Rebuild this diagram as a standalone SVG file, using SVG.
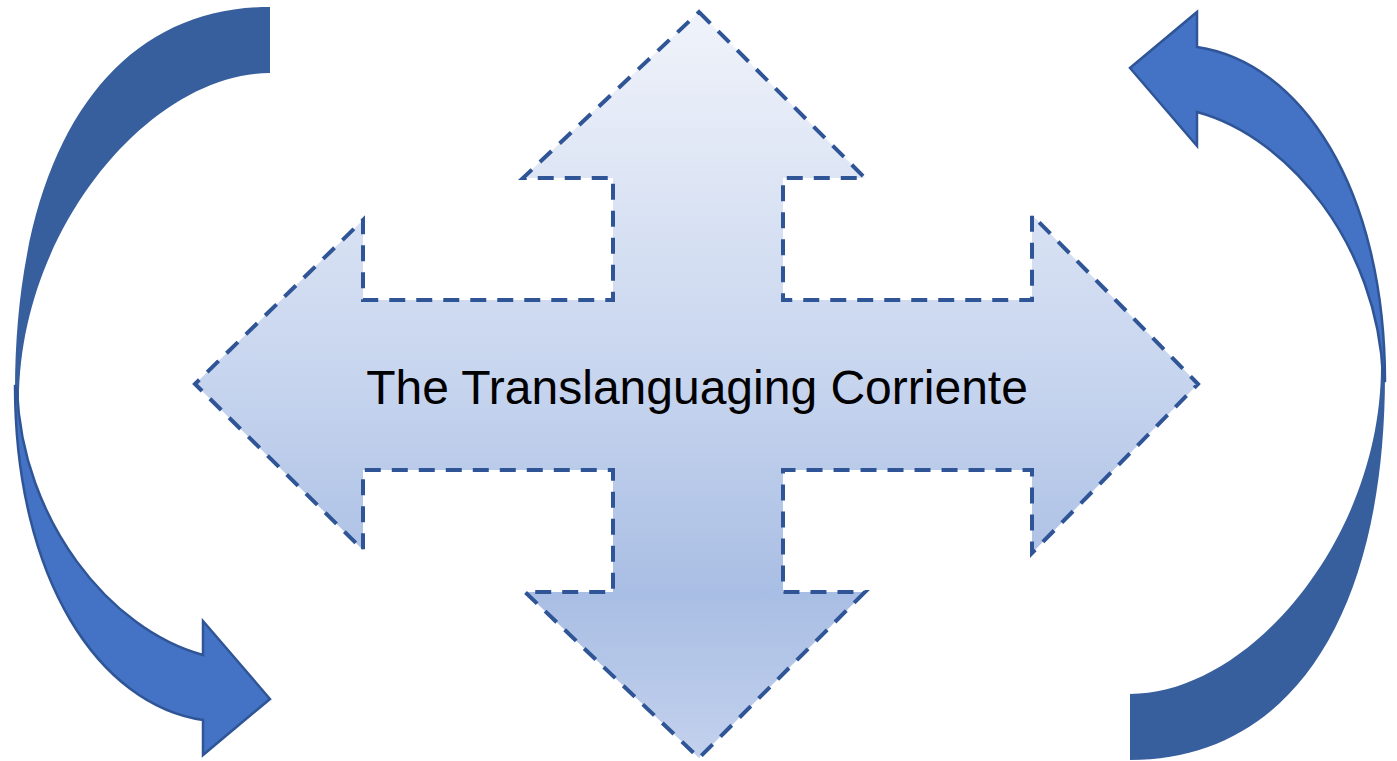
<svg xmlns="http://www.w3.org/2000/svg" width="1397" height="761" viewBox="0 0 1397 761">
<defs>
<linearGradient id="crossGrad" gradientUnits="userSpaceOnUse" x1="0" y1="12" x2="0" y2="758">
<stop offset="0" stop-color="#f0f3fa"/>
<stop offset="0.5" stop-color="#c6d4ee"/>
<stop offset="0.78" stop-color="#a9bee4"/>
<stop offset="1" stop-color="#c3d1ed"/>
</linearGradient>
<g id="curvedArrow">
<path class="back" d="M270,7 C110,7 15,150 15,392 L19,400 C19,230 150,73 270,73 Z"/>
<path class="front" d="M15,385 C15,580 100,705 203,720 L203,755 L270,699 L203,621 L203,655 C110,630 22,520 17,390 Z"/>
</g>
</defs>
<style>
.back{fill:#375f9e;stroke:none}
.front{fill:#4472c4;stroke:#2f5597;stroke-width:2.5;stroke-linejoin:miter}
.cross{fill:url(#crossGrad);stroke:#2f5597;stroke-width:4;stroke-dasharray:16 11;stroke-linejoin:miter}
.label{font-family:"Liberation Sans",Arial,sans-serif;font-size:48px;fill:#000000;text-anchor:middle}
</style>
<g id="connectors">
<g id="left-cycle-arrow"><use href="#curvedArrow"/></g>
<g id="right-cycle-arrow"><use href="#curvedArrow" transform="rotate(180 700 383.5)"/></g>
</g>
<g id="translanguaging-corriente">
<path class="cross" d="M699,12 L865,178 L783,178 L783,300 L1032,300 L1032,215 L1198,384 L1032,553 L1032,470 L783,470 L783,592 L865,592 L699,758 L525,592 L613,592 L613,470 L363,470 L363,550 L195,384 L363,220 L363,300 L613,300 L613,178 L523,178 Z"/>
<text class="label" x="697" y="404">The Translanguaging Corriente</text>
</g>
</svg>
